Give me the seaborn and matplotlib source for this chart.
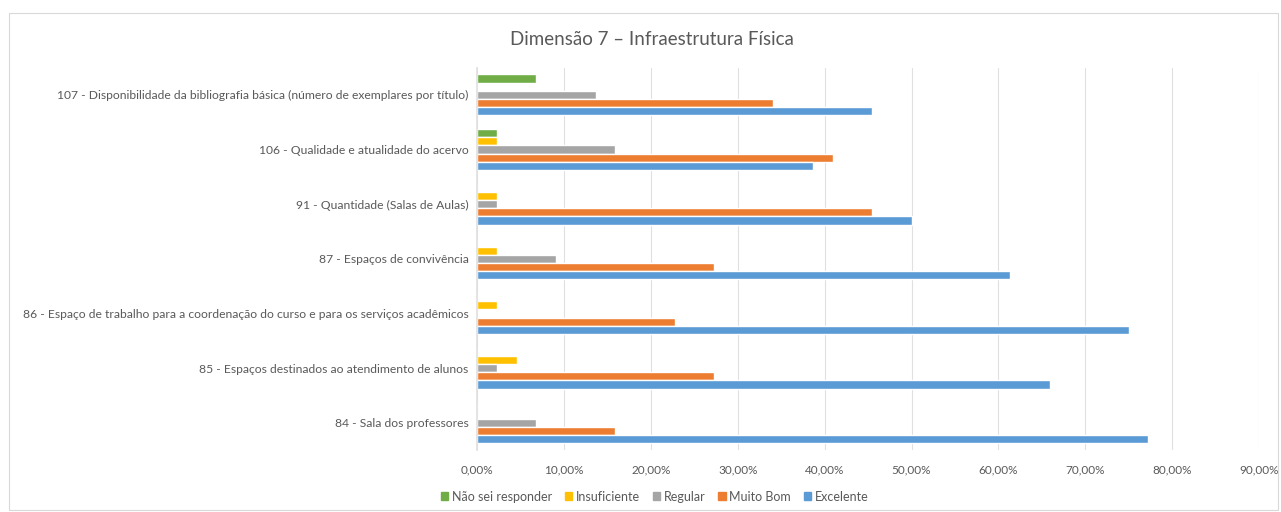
import matplotlib
matplotlib.use("Agg")
import matplotlib.pyplot as plt
import seaborn as sns
import pandas as pd
from matplotlib.ticker import FuncFormatter, MultipleLocator
from matplotlib.patches import Rectangle

categories = [
    "107 - Disponibilidade da bibliografia básica (número de exemplares por título)",
    "106 - Qualidade e atualidade do acervo",
    "91 - Quantidade (Salas de Aulas)",
    "87 - Espaços de convivência",
    "86 - Espaço de trabalho para a coordenação do curso e para os serviços acadêmicos",
    "85 - Espaços destinados ao atendimento de alunos",
    "84 - Sala dos professores",
]
series = ["Não sei responder", "Insuficiente", "Regular", "Muito Bom", "Excelente"]
nao_sei = [0.0682, 0.0227, 0.0, 0.0, 0.0, 0.0, 0.0]
insuficiente = [0.0, 0.0227, 0.0227, 0.0227, 0.0227, 0.0455, 0.0]
regular = [0.1364, 0.1591, 0.0227, 0.0909, 0.0, 0.0227, 0.0682]
muito_bom = [0.3409, 0.4091, 0.4545, 0.2727, 0.2273, 0.2727, 0.1591]
excelente = [0.4545, 0.3864, 0.5000, 0.6136, 0.7500, 0.6591, 0.7727]
colors = ["#70AD47", "#FFC000", "#A5A5A5", "#ED7D31", "#5B9BD5"]

rows = []
for s, vals in zip(series, [nao_sei, insuficiente, regular, muito_bom, excelente]):
    for c, v in zip(categories, vals):
        rows.append({"cat": c, "serie": s, "val": v})
df = pd.DataFrame(rows)

sns.set_theme(style="white")
plt.rcParams["font.family"] = ["Lato", "DejaVu Sans"]
txt = "#595959"

fig = plt.figure(figsize=(12.81, 5.12), dpi=100)
ax = fig.add_axes([0.3724, 0.121, 0.6105, 0.747])
sns.barplot(data=df, x="val", y="cat", hue="serie", order=categories,
            hue_order=series, palette=colors, orient="h", width=0.75,
            ax=ax, legend=False, saturation=1)

ax.set_xlim(0, 0.9)
ax.xaxis.set_major_locator(MultipleLocator(0.1))
ax.xaxis.set_major_formatter(FuncFormatter(lambda v, p: f"{v*100:.2f}%".replace(".", ",")))
ax.grid(axis="x", color="#E0E0E0", linewidth=0.8)
ax.set_axisbelow(True)
for sp in ["top", "right", "bottom"]:
    ax.spines[sp].set_visible(False)
ax.spines["left"].set_color("#E0E0E0")
ax.set_xlabel("")
ax.set_ylabel("")
ax.tick_params(axis="x", labelsize=8.5, colors=txt, length=0, pad=10)
ax.tick_params(axis="y", labelsize=8.7, colors=txt, length=0, pad=6)

fig.text(0.509, 0.922, "Dimensão 7 – Infraestrutura Física", ha="center", va="center",
         fontsize=13.5, color=txt)

handles = [Rectangle((0, 0), 1, 1, color=c) for c in colors]
fig.legend(handles, series, loc="center", bbox_to_anchor=(0.511, 0.03), ncol=5,
           frameon=False, fontsize=9, handlelength=0.6, handleheight=0.6,
           columnspacing=1.0, handletextpad=0.3, labelcolor=txt)

fig.patches.append(Rectangle((0.007, 0.004), 0.991, 0.971, transform=fig.transFigure,
                             fill=False, edgecolor="#D9D9D9", linewidth=0.8))

fig.savefig("out.png", dpi=100, facecolor="white")
